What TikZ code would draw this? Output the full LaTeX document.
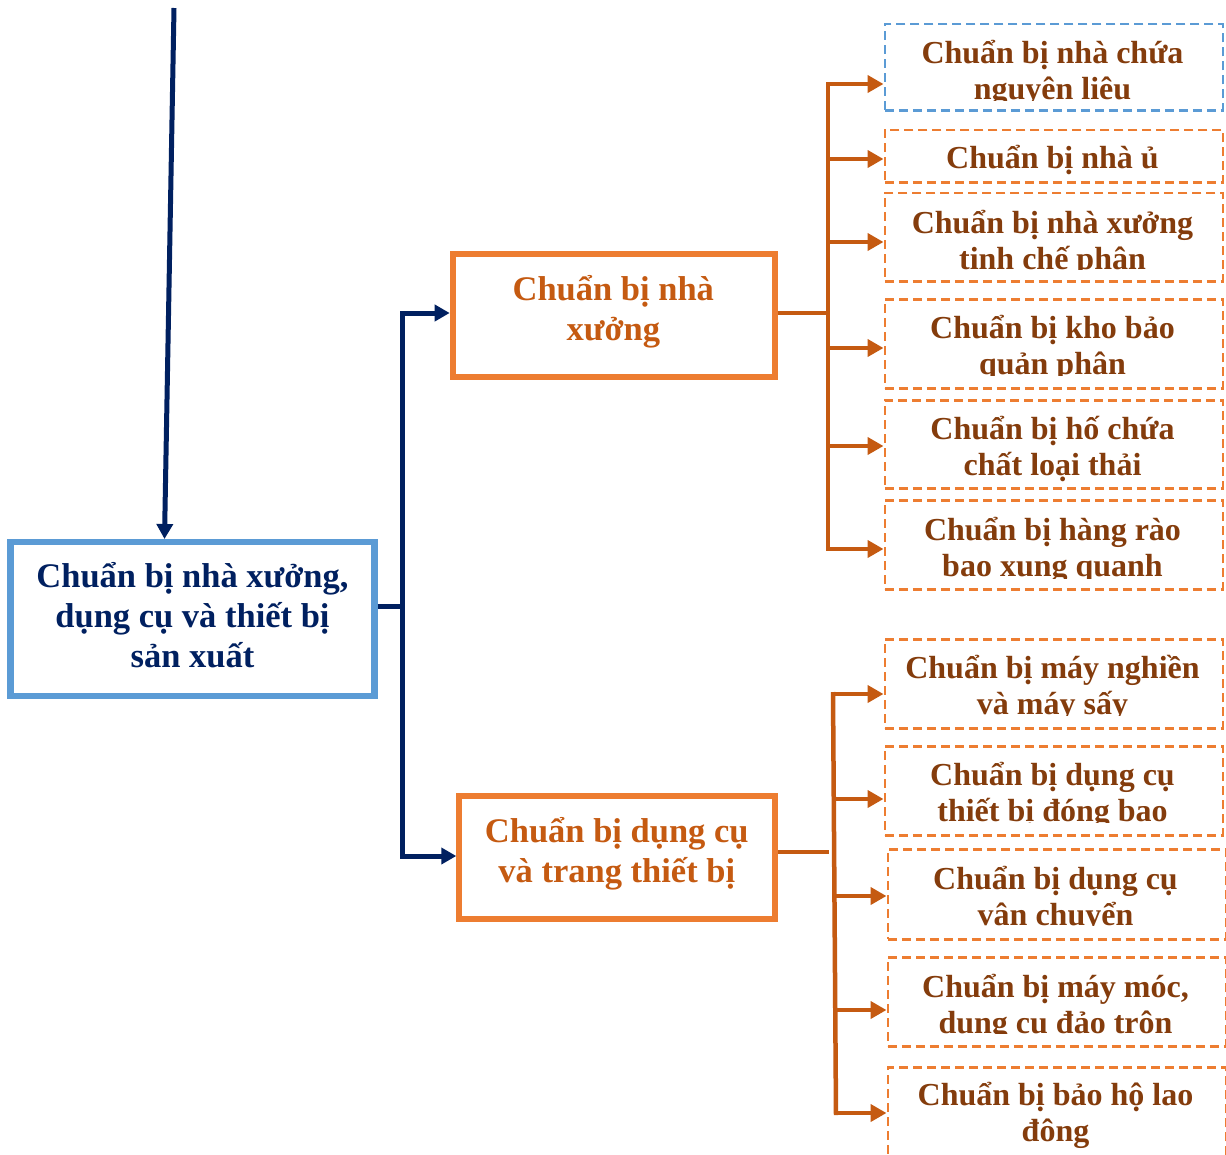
\documentclass[tikz,border=0pt]{standalone}
\usepackage{fontspec}
\setmainfont{Liberation Serif}
\usetikzlibrary{arrows.meta}

\definecolor{navy}{HTML}{002060}
\definecolor{skyline}{HTML}{5B9BD5}
\definecolor{orangeline}{HTML}{ED7D31}
\definecolor{rust}{HTML}{C55A11}
\definecolor{leafbrown}{HTML}{843C0C}

\tikzset{
  rootbox/.style={draw=skyline, line width=6.5pt, inner sep=0pt},
  midbox/.style={draw=orangeline, line width=6pt, inner sep=0pt},
  leafplain/.style={draw=orangeline, line width=2.5pt, dash pattern=on 9pt off 5pt, inner sep=0pt},
  leafblue/.style={draw=skyline, line width=2.5pt, dash pattern=on 9pt off 5pt, inner sep=0pt},
  roottext/.style={anchor=base, inner sep=0pt, text=navy, font=\bfseries\fontsize{34.5}{40}\selectfont},
  midtext/.style={anchor=base, inner sep=0pt, text=rust, font=\bfseries\fontsize{34.5}{40}\selectfont},
  leaftext/.style={anchor=base, inner sep=0pt, text=leafbrown, font=\bfseries\fontsize{32}{36}\selectfont},
  navyline/.style={draw=navy, line width=5pt},
  navyarrow/.style={navyline, -{Triangle[length=15pt, width=16pt]}},
  rustline/.style={draw=rust, line width=4.5pt},
  rustarrow/.style={draw=rust, line width=4pt, -{Triangle[length=16pt, width=17pt]}},
}

% one text line per node, baselines #4 apart
\newcommand\textlines[6]{% #1 name prefix, #2 centre x, #3 first baseline, #4 line step, #5 style, #6 lines
  \foreach \lineTxt [count=\k from 1] in {#6} {
    \node[#5] (#1-\k) at (#2, {#3+(\k-1)*#4}) {\lineTxt};
  }}

% dashed box of fixed width with its two lines, cut off at height #7
\newcommand\leafbox[9]{% #1 name, #2 border style, #3 left, #4 top, #5 bottom, #6 first baseline, #7 clip y, #8 line 1, #9 line 2
  \node[#2, minimum width=338pt, minimum height={(#5-#4)*1pt}, anchor=north west] (#1) at (#3,#4) {};
  \begin{scope}
    \clip (#3,#4) rectangle ({#3+338},#7);
    \node[leaftext] (#1-l1) at ({#3+169},#6) {#8};
    \node[leaftext] (#1-l2) at ({#3+169},{#6+36}) {#9};
  \end{scope}}

\begin{document}
\begin{tikzpicture}[x=1pt, y=-1pt]
  \useasboundingbox (0,0) rectangle (1226,1154);
  \clip (0,0) rectangle (1226,1154);
  \fill[white] (0,0) rectangle (1226,1154);

  % main box
  \node[rootbox, minimum width=363.6pt, minimum height=153.8pt] (root) at (192.5,619) {};
  \textlines{rootT}{192.5}{587}{40}{roottext}{{Chuẩn bị nhà xưởng,},{dụng cụ và thiết bị},{sản xuất}}

  % second level
  \node[midbox, minimum width=321.8pt, minimum height=123pt] (house) at (613.6,315.5) {};
  \textlines{houseT}{613.3}{300.5}{40}{midtext}{{Chuẩn bị nhà},{xưởng}}
  \node[midbox, minimum width=316pt, minimum height=123.5pt] (tools) at (617.3,857.5) {};
  \textlines{toolsT}{616.8}{842}{40}{midtext}{{Chuẩn bị dụng cụ},{và trang thiết bị}}

  % leaves of the house branch
  \leafbox{h1}{leafblue}{883.5}{22.5}{109}{63.5}{100.5}{Chuẩn bị nhà chứa}{nguyên liêu}
  \leafbox{h2}{leafplain}{883.5}{128.5}{181}{168}{181}{Chuẩn bị nhà ủ}{}
  \leafbox{h3}{leafplain}{883.5}{191.5}{280}{233}{269.5}{Chuẩn bị nhà xưởng}{tinh chế phân}
  \leafbox{h4}{leafplain}{883.5}{298}{387}{338}{375.5}{Chuẩn bị kho bảo}{quản phân}
  \leafbox{h5}{leafplain}{883.5}{399}{487}{439}{487}{Chuẩn bị hố chứa}{chất loại thải}
  \leafbox{h6}{leafplain}{883.5}{499}{588}{540.5}{578}{Chuẩn bị hàng rào}{bao xung quanh}

  % leaves of the tools branch
  \leafbox{t1}{leafplain}{883.5}{638}{727}{678.5}{715.5}{Chuẩn bị máy nghiền}{và máy sấy}
  \leafbox{t2}{leafplain}{883.5}{745}{834}{785.5}{822.5}{Chuẩn bị dụng cụ}{thiết bị đóng bao}
  \leafbox{t3}{leafplain}{886.5}{848}{938}{889}{925.5}{Chuẩn bị dụng cụ}{vận chuyển}
  \leafbox{t4}{leafplain}{886.5}{956}{1045}{997}{1033.5}{Chuẩn bị máy móc,}{dụng cụ đảo trộn}
  \leafbox{t5}{leafplain}{886.5}{1066}{1180}{1105.5}{1180}{Chuẩn bị bảo hộ lao}{đông}

  % incoming arrow
  \coordinate (src) at (174,8);
  \coordinate (rootin) at (164.5,539);
  \draw[navyarrow] (src) -- (rootin);

  % root to the two branches
  \coordinate (nbus) at (402,606);
  \draw[navyline] ([yshift=13pt]root.east) -- (nbus);
  \draw[navyline, {Triangle[length=15pt, width=16pt]}-{Triangle[length=15pt, width=16pt]}]
    ([yshift=2.5pt]house.west) -- (402,313) -- (402,856) -- ([yshift=1.5pt]tools.west);

  % house branch bus
  \coordinate (hb) at (828,313);
  \draw[rustline] ([yshift=2.5pt]house.east) -- (hb);
  \coordinate (a1) at (828,84);
  \coordinate (a2) at (828,159);
  \coordinate (a3) at (828,242);
  \coordinate (a4) at (828,348);
  \coordinate (a5) at (828,446);
  \coordinate (a6) at (828,549);
  \draw[rustline] (828,82) -- (828,551);
  \foreach \i in {1,...,6} {
    \draw[rustarrow] (a\i) -- (h\i.west |- a\i);
  }

  % tools branch bus
  \coordinate (tb) at (828.5,852);
  \draw[rustline] ([yshift=5.5pt]tools.east) -- (tb);
  \coordinate (b1) at (833,694);
  \coordinate (b2) at (834,799);
  \coordinate (b3) at (834.5,896);
  \coordinate (b4) at (835.5,1010);
  \coordinate (b5) at (836,1113);
  \draw[rustline] (833,692) -- (836,1115);
  \foreach \i in {1,...,5} {
    \draw[rustarrow] (b\i) -- (t\i.west |- b\i);
  }
\end{tikzpicture}
\end{document}
